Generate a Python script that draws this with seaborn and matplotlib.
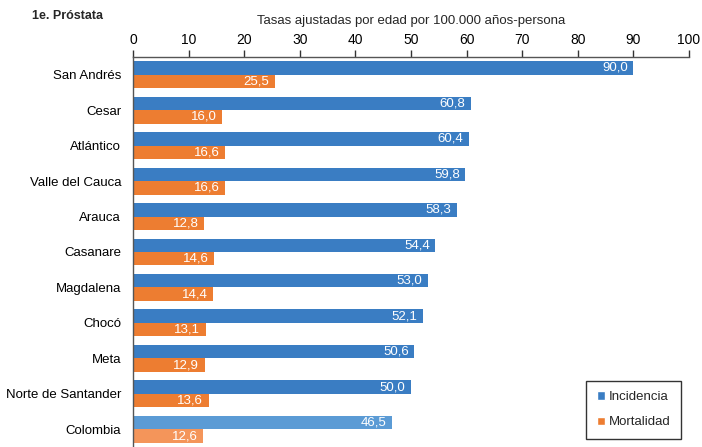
import matplotlib
matplotlib.use('Agg')
import pandas as pd
import matplotlib.pyplot as plt
import seaborn as sns
import numpy as np
from matplotlib.patches import Patch

sns.set_theme(style="white")
plt.rcParams['font.family'] = ['Liberation Sans', 'DejaVu Sans']

# Data
departamentos = ['San Andrés', 'Cesar', 'Atlántico', 'Valle del Cauca', 'Arauca',
                 'Casanare', 'Magdalena', 'Chocó', 'Meta', 'Norte de Santander', 'Colombia']
incidencia = [90.0, 60.8, 60.4, 59.8, 58.3, 54.4, 53.0, 52.1, 50.6, 50.0, 46.5]
mortalidad = [25.5, 16.0, 16.6, 16.6, 12.8, 14.6, 14.4, 13.1, 12.9, 13.6, 12.6]
series = ['Incidencia', 'Mortalidad']

df = pd.DataFrame({'Departamento': departamentos,
                   'Incidencia': incidencia,
                   'Mortalidad': mortalidad})
df_long = df.melt(id_vars='Departamento', var_name='Serie', value_name='Tasa')

colors = {'Incidencia': '#3A7DC3', 'Mortalidad': '#ED7D31'}
light = {'Incidencia': '#5B9BD5', 'Mortalidad': '#F4955A'}

fig = plt.figure(figsize=(7.02, 4.47), dpi=100)
ax = fig.add_axes([133 / 702, 0.0, (689 - 133) / 702, 1 - 57 / 447])

sns.barplot(data=df_long, x='Tasa', y='Departamento', hue='Serie',
            palette=colors, orient='h', width=0.76, ax=ax, legend=False,
            edgecolor='none', saturation=1)

# lighter colours for Colombia, white labels inside bars
for serie, container in zip(series, ax.containers):
    for name, patch, val in zip(departamentos, container.patches, container.datavalues):
        if name == 'Colombia':
            patch.set_facecolor(light[serie])
        y = patch.get_y() + patch.get_height() / 2
        ax.text(val - 1.0, y, f"{val:.1f}".replace('.', ','), ha='right', va='center',
                color='white', fontsize=9.5)

ax.set_xlim(0, 100)
ax.set_ylim(10.5, -0.5)
ax.set_xticks(np.arange(0, 101, 10))
ax.xaxis.tick_top()
ax.xaxis.set_label_position('top')
ax.tick_params(axis='x', direction='out', length=5, width=1, colors='#333333',
               labelcolor='black', labelsize=10, pad=2, top=True, bottom=False)
ax.tick_params(axis='y', length=0, labelsize=9.5, pad=8.5, labelcolor='black')
ax.set_xlabel('Tasas ajustadas por edad por 100.000 años-persona', fontsize=9.5, labelpad=7)
ax.set_ylabel('')

for s in ['right', 'bottom']:
    ax.spines[s].set_visible(False)
for s in ['top', 'left']:
    ax.spines[s].set_visible(True)
    ax.spines[s].set_color('#555555')
    ax.spines[s].set_linewidth(1)

fig.text(32 / 702, 1 - 16 / 447, '1e. Próstata', fontsize=9, fontweight='bold', va='center')

handles = [Patch(facecolor=colors[s], label=s) for s in series]
leg = fig.legend(handles=handles, loc='lower right', bbox_to_anchor=(681 / 702, 1 - 439 / 447),
                 frameon=True, fontsize=9.5, handlelength=0.6, handleheight=0.6,
                 handletextpad=0.3, borderpad=0.8, labelspacing=1.0, fancybox=False,
                 borderaxespad=0)
leg.get_frame().set_edgecolor('black')
leg.get_frame().set_linewidth(1)

fig.savefig('out.png', dpi=100)
plt.close()
